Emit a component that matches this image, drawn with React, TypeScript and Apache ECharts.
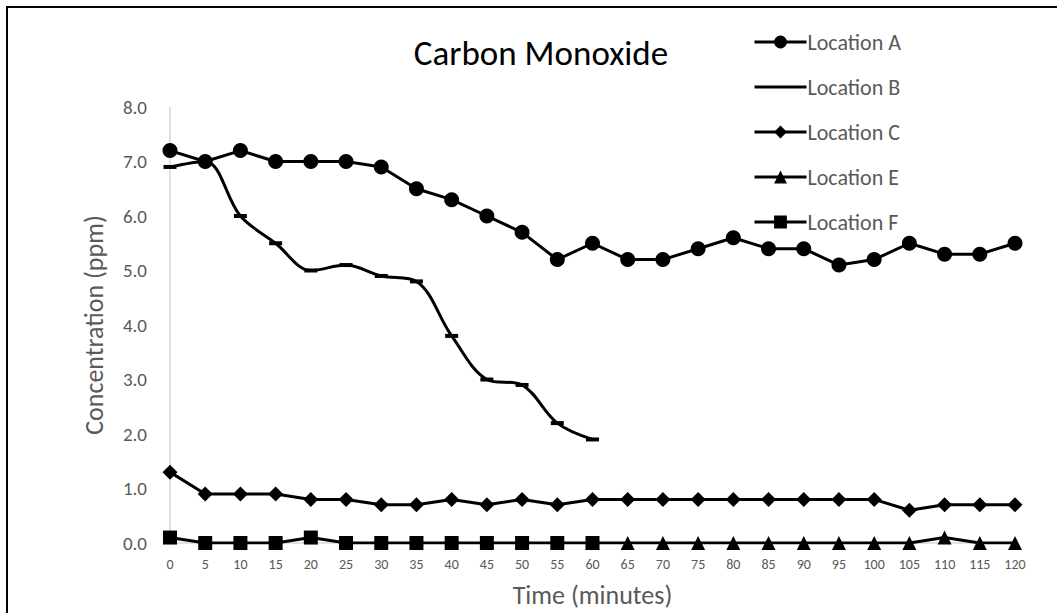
import React, { useEffect, useRef } from "react";
import * as echarts from "echarts";

const minutes = ["0","5","10","15","20","25","30","35","40","45","50","55","60","65","70","75","80","85","90","95","100","105","110","115","120"];
const locationA = [7.2,7.0,7.2,7.0,7.0,7.0,6.9,6.5,6.3,6.0,5.7,5.2,5.5,5.2,5.2,5.4,5.6,5.4,5.4,5.1,5.2,5.5,5.3,5.3,5.5];
const locationB = [6.9,7.0,6.0,5.5,5.0,5.1,4.9,4.8,3.8,3.0,2.9,2.2,1.9,null,null,null,null,null,null,null,null,null,null,null,null];
const locationC = [1.3,0.9,0.9,0.9,0.8,0.8,0.7,0.7,0.8,0.7,0.8,0.7,0.8,0.8,0.8,0.8,0.8,0.8,0.8,0.8,0.8,0.6,0.7,0.7,0.7];
const locationE = [null,null,null,null,null,null,null,null,null,null,null,null,0,0,0,0,0,0,0,0,0,0,0.1,0,0];
const locationF = [0.1,0,0,0,0.1,0,0,0,0,0,0,0,0,null,null,null,null,null,null,null,null,null,null,null,null];
const yTicks = [0, 8, 1];

const FONT = "Carlito, Calibri, Lato, 'Open Sans', sans-serif";
const GRAY = "#595959";

export default function App() {
  const ref = useRef<HTMLDivElement>(null);
  useEffect(() => {
    const chart = echarts.init(ref.current!, null, { renderer: "svg" });
    const base = {
      type: "line",
      lineStyle: { color: "#000", width: 3 },
      itemStyle: { color: "#000" },
      connectNulls: false,
    };
    chart.setOption({
      animation: false,
      textStyle: { fontFamily: FONT },
      title: {
        text: "Carbon Monoxide",
        left: 536,
        top: 30,
        textAlign: "center",
        textStyle: { fontFamily: FONT, fontSize: 35, fontWeight: "normal", color: "#000" },
      },
      legend: {
        orient: "vertical",
        left: 748,
        top: 26,
        itemWidth: 52,
        itemHeight: 16,
        itemGap: 23,
        lineStyle: { width: 3 },
        textStyle: { fontFamily: FONT, fontSize: 22, lineHeight: 16, color: GRAY, padding: [0, 0, 0, -4] },
        data: [
          "Location A",
          { name: "Location B", icon: "path://M0,0 M0,6.5 L52,6.5 L52,9.5 L0,9.5 Z M52,16" },
          "Location C",
          "Location E",
          "Location F",
        ],
      },
      graphic: [
        { type: "line", shape: { x1: 6, y1: 7, x2: 1057, y2: 7 }, style: { stroke: "#000", lineWidth: 2 } },
        { type: "line", shape: { x1: 7, y1: 6, x2: 7, y2: 613 }, style: { stroke: "#000", lineWidth: 2 } },
      ],
      grid: { left: 170, top: 107, width: 845, height: 438, containLabel: false },
      xAxis: {
        type: "category",
        data: minutes,
        boundaryGap: false,
        name: "Time (minutes)",
        nameLocation: "middle",
        nameGap: 39,
        nameTextStyle: { fontFamily: FONT, fontSize: 26, color: GRAY },
        axisLine: { lineStyle: { color: "#d9d9d9", width: 1.5 } },
        axisTick: { show: false },
        axisLabel: { fontFamily: FONT, fontSize: 14, color: GRAY, margin: 14, interval: 0 },
        splitLine: { show: false },
      },
      yAxis: {
        type: "value",
        min: yTicks[0],
        max: yTicks[1],
        interval: yTicks[2],
        name: "Concentration (ppm)",
        nameLocation: "middle",
        nameGap: 63,
        nameTextStyle: { fontFamily: FONT, fontSize: 26, color: GRAY },
        axisLine: { show: true, lineStyle: { color: "#d9d9d9", width: 1.5 } },
        axisTick: { show: false },
        axisLabel: { fontFamily: FONT, fontSize: 19, color: GRAY, margin: 23, formatter: (v: number) => v.toFixed(1) },
        splitLine: { show: false },
      },
      series: [
        { ...base, name: "Location A", data: locationA, symbol: "circle", symbolSize: 15 },
        { ...base, name: "Location B", data: locationB, symbol: "rect", symbolSize: [13, 4], smooth: 0.35 },
        { ...base, name: "Location C", data: locationC, symbol: "diamond", symbolSize: 15 },
        { ...base, name: "Location E", data: locationE, symbol: "triangle", symbolSize: 14 },
        { ...base, name: "Location F", data: locationF, symbol: "rect", symbolSize: 14 },
      ],
    });
    return () => chart.dispose();
  }, []);
  return (
    <div
      ref={ref}
      style={{ position: "absolute", left: 0, top: 0, width: 1057, height: 613, background: "#fff" }}
    />
  );
}
